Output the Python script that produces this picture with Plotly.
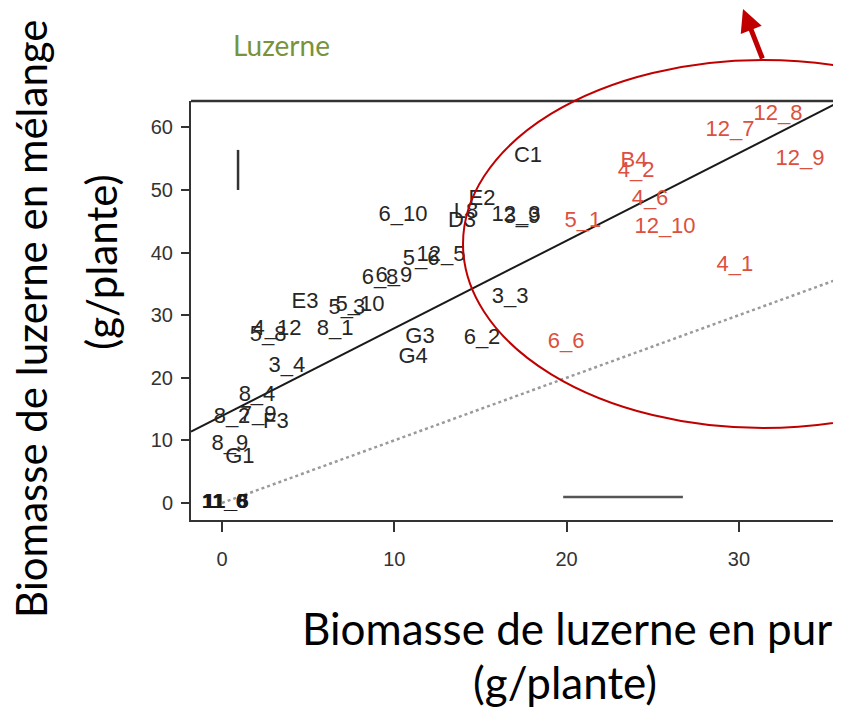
import plotly.graph_objects as go

# ---- data ----
black_labels = ["C1", "E2", "6_10", "L8", "D3", "12_3", "3_9", "5_6", "12_5", "6_8", "6_9",
                "E3", "5_3", "5_10", "8_1", "5_8", "4_12", "3_4", "G3", "G4", "6_2", "3_3",
                "8_4", "8_2", "7_9", "F3", "8_9", "G1"]
black_x = [17.76, 15.09, 10.50, 14.16, 13.93, 17.06, 17.41, 11.55, 12.71, 9.17, 9.98,
           4.82, 7.25, 8.01, 6.56, 2.67, 3.19, 3.77, 11.49, 11.09, 15.09, 16.72,
           2.03, 0.58, 2.09, 3.13, 0.46, 1.04]
black_y = [55.27, 48.40, 45.85, 46.33, 44.89, 45.85, 45.53, 38.82, 39.46, 35.78, 36.10,
           31.95, 30.99, 31.47, 27.64, 26.68, 27.64, 21.73, 26.36, 23.16, 26.20, 32.75,
           17.09, 13.58, 13.90, 12.78, 9.42, 7.19]

origin_labels = ["11_6", "11_8", "11_5"]
origin_x = [0.15, 0.19, 0.23]
origin_y = [0.0, 0.1, 0.0]

red_labels = ["12_8", "12_7", "12_9", "B4", "4_2", "4_6", "12_10", "5_1", "4_1", "6_6"]
red_x = [32.27, 29.48, 33.55, 23.91, 24.03, 24.84, 25.71, 20.95, 29.77, 19.97]
red_y = [61.98, 59.58, 54.79, 54.47, 52.88, 48.40, 43.93, 44.89, 37.86, 25.56]

# regression line y = a + b x, and 1:1 reference line
reg_intercept = 13.9
reg_slope = 1.40
line_x = [-1.8, 36.0]
ref_x = [0.0, 36.0]

# small scale bars
vbar_x = [0.93, 0.93]
vbar_y = [50.0, 56.4]
hbar_x = [19.8, 26.75]
hbar_y = [0.96, 0.96]

x_ticks = [0, 10, 20, 30]
y_ticks = [0, 10, 20, 30, 40, 50, 60]

# ---- figure (page has an 8 px body margin) ----
OFF = 8
W, H = 841 - OFF, 708 - OFF
ML, MR, MT = 191 - OFF, 0, 101 - OFF
MB = H - (520 - OFF)
PW, PH = W - ML - MR, H - MT - MB


def px(xp):
    return ((xp - OFF) - ML) / PW


def py(yp):
    return (H - MB - (yp - OFF)) / PH


fig = go.Figure()

fig.add_trace(go.Scatter(x=ref_x, y=ref_x, mode="lines",
                         line=dict(color="#9a9a9a", width=2.5, dash="dot"),
                         hoverinfo="skip", showlegend=False))
fig.add_trace(go.Scatter(x=line_x, y=[reg_intercept + reg_slope * v for v in line_x],
                         mode="lines", line=dict(color="#1a1a1a", width=2),
                         hoverinfo="skip", showlegend=False))
fig.add_trace(go.Scatter(x=vbar_x, y=vbar_y, mode="lines",
                         line=dict(color="#333333", width=2.5), showlegend=False))
fig.add_trace(go.Scatter(x=hbar_x, y=hbar_y, mode="lines",
                         line=dict(color="#555555", width=2.5), showlegend=False))

fig.add_trace(go.Scatter(x=black_x, y=black_y, text=black_labels, mode="text",
                         textfont=dict(family="Liberation Sans", size=22, color="#262626"),
                         textposition="middle center", showlegend=False))
fig.add_trace(go.Scatter(x=origin_x, y=origin_y, text=origin_labels, mode="text",
                         textfont=dict(family="Liberation Sans", size=21, color="#1a1a1a",
                                       weight="bold"),
                         textposition="middle center", showlegend=False))
fig.add_trace(go.Scatter(x=red_x, y=red_y, text=red_labels, mode="text",
                         textfont=dict(family="Liberation Sans", size=22, color="#dc5040"),
                         textposition="middle center", showlegend=False))

x_left = -1.8
x_right = x_left + PW / 17.23
y_bottom = -2.72
y_top = y_bottom + PH / 6.26

fig.update_xaxes(range=[x_left, x_right], tickvals=x_ticks, ticks="outside", ticklen=10,
                 tickwidth=2, tickcolor="#333333", showline=True, linecolor="#333333",
                 linewidth=2, showgrid=False, zeroline=False, ticklabelstandoff=10,
                 tickfont=dict(family="Liberation Sans", size=20, color="#333333"))
fig.update_yaxes(range=[y_bottom, y_top], tickvals=y_ticks, ticks="outside", ticklen=8,
                 tickwidth=2, tickcolor="#333333", showline=True, linecolor="#333333",
                 linewidth=2, showgrid=False, zeroline=False, ticklabelstandoff=4,
                 tickfont=dict(family="Liberation Sans", size=20, color="#333333"))

shapes = [
    dict(type="line", xref="paper", yref="paper", x0=0, x1=1, y0=1, y1=1,
         line=dict(color="#333333", width=2.5)),
    dict(type="circle", xref="paper", yref="paper", x0=px(463), x1=px(1063),
         y0=py(428), y1=py(60), line=dict(color="#c00000", width=2)),
]

title_font = "Lato"
annotations = [
    dict(text="Luzerne", x=px(281), y=py(45), xref="paper", yref="paper", showarrow=False,
         font=dict(family=title_font, size=28, color="#77933c"), xanchor="center", yanchor="middle"),
    dict(text="Biomasse de luzerne en pur", x=px(567), y=py(628), xref="paper", yref="paper",
         showarrow=False, font=dict(family=title_font, size=44, color="#000000"),
         xanchor="center", yanchor="middle"),
    dict(text="(g/plante)", x=px(565), y=py(682), xref="paper", yref="paper",
         showarrow=False, font=dict(family=title_font, size=44, color="#000000"),
         xanchor="center", yanchor="middle"),
    dict(text="Biomasse de luzerne en mélange", x=px(31), y=py(319), xref="paper", yref="paper",
         showarrow=False, textangle=-90, font=dict(family=title_font, size=42, color="#000000"),
         xanchor="center", yanchor="middle"),
    dict(text="(g/plante)", x=px(101), y=py(262), xref="paper", yref="paper",
         showarrow=False, textangle=-90, font=dict(family=title_font, size=42, color="#000000"),
         xanchor="center", yanchor="middle"),
    dict(text="", x=px(743), y=py(8), xref="paper", yref="paper", showarrow=True,
         ax=20, ay=52, arrowhead=2, arrowsize=0.9, arrowwidth=5, arrowcolor="#c00000"),
]

fig.update_layout(width=W, height=H, margin=dict(l=ML, r=MR, t=MT, b=MB),
                  paper_bgcolor="white", plot_bgcolor="white",
                  shapes=shapes, annotations=annotations, showlegend=False)

fig.write_html("out.html")
